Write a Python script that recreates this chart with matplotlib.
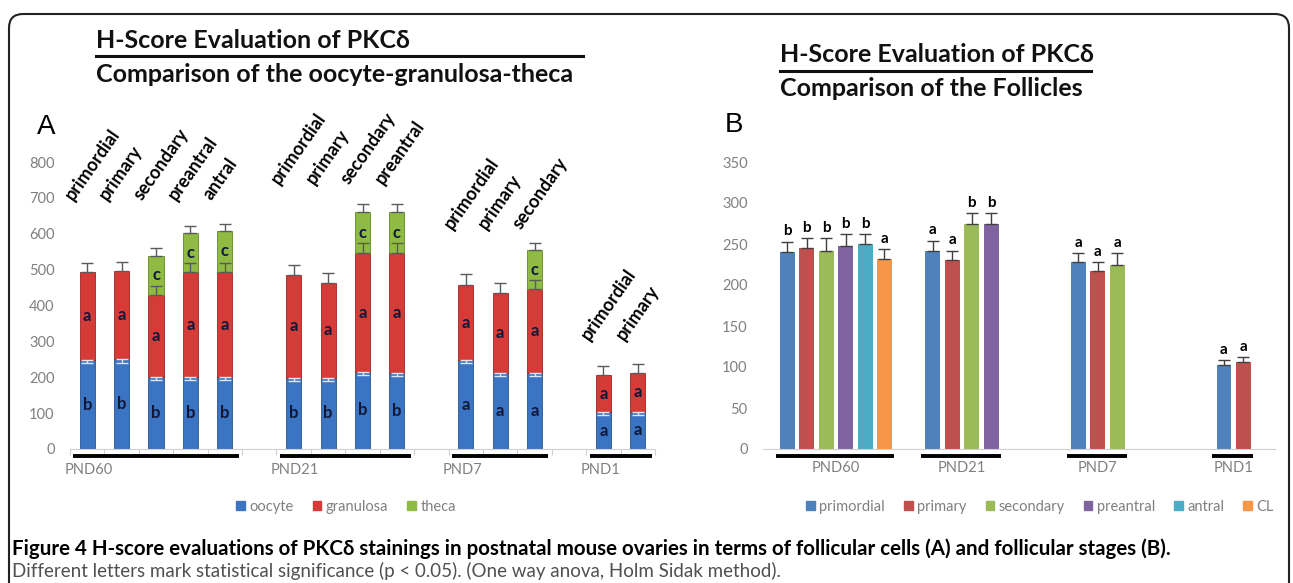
import numpy as np
import matplotlib
matplotlib.use('Agg')
import matplotlib.pyplot as plt
from matplotlib.patches import FancyBboxPatch, Patch

# ---- data ----
groups = ['PND60', 'PND21', 'PND7', 'PND1']
stages_a = [['primordial', 'primary', 'secondary', 'preantral', 'antral'],
            ['primordial', 'primary', 'secondary', 'preantral'],
            ['primordial', 'primary', 'secondary'],
            ['primordial', 'primary']]
oocyte = [248, 250, 200, 200, 200, 199, 199, 215, 213, 248, 213, 213, 103, 104]
granulosa = [244, 246, 230, 294, 294, 286, 264, 330, 332, 209, 222, 232, 102, 108]
theca = [None, None, 108, 107, 114, None, None, 116, 116, None, None, 109, None, None]
oocyte_err = [9] * 14
granulosa_err = [26, 24, 24, 24, 24, 27, 28, 30, 30, 30, 28, 25, 27, 26]
theca_err = [None, None, 21, 20, 20, None, None, 23, 23, None, None, 21, None, None]
oocyte_sig = ['b'] * 9 + ['a'] * 5
granulosa_sig = ['a'] * 14
theca_sig = 'c'

stages_b = ['primordial', 'primary', 'secondary', 'preantral', 'antral', 'CL']
b_vals = [[240, 245, 242, 248, 250, 232], [242, 230, 274, 274], [228, 217, 224], [102, 106]]
b_err = [[13, 12, 15, 14, 12, 12], [12, 12, 14, 14], [11, 11, 15], [6, 6]]
b_sig = [['b', 'b', 'b', 'b', 'b', 'a'], ['a', 'a', 'b', 'b'], ['a', 'a', 'a'], ['a', 'a']]

cells = ['oocyte', 'granulosa', 'theca']
cell_colors = ['#3a74c2', '#d63c37', '#8fbb45']
b_colors = ['#4f81bd', '#c0504d', '#9bbb59', '#8064a2', '#4bacc6', '#f79646']

W, H = 1293, 583
FONT = ['Lato', 'Open Sans', 'DejaVu Sans']
plt.rcParams['font.family'] = FONT
GRAY = '#808080'

fig = plt.figure(figsize=(W / 100, H / 100), dpi=100)

# background axes in pixel coordinates for frame and titles
bg = fig.add_axes([0, 0, 1, 1], zorder=-1)
bg.set_xlim(0, W)
bg.set_ylim(H, 0)
bg.axis('off')
bg.add_patch(FancyBboxPatch((9, 14), 1280, 620, boxstyle='round,pad=0,rounding_size=14',
                            fc='none', ec='#222222', lw=1.5))

def title(x, y1, y2, x2, l1, l2):
    bg.text(x, y1, l1, fontsize=18, fontweight='bold', va='center', ha='left', color='#111111')
    bg.plot([x, x2], [y1 + 16, y1 + 16], color='#111111', lw=2.2)
    bg.text(x, y2, l2, fontsize=18, fontweight='bold', va='center', ha='left', color='#111111')

title(96, 40, 74, 583, 'H-Score Evaluation of PKCδ', 'Comparison of the oocyte-granulosa-theca')
title(780, 55, 89, 1091, 'H-Score Evaluation of PKCδ', 'Comparison of the Follicles')
bg.text(37, 127, 'A', fontsize=20, family='Liberation Sans', va='center', ha='left')
bg.text(725, 125, 'B', fontsize=20, family='Liberation Sans', va='center', ha='left')

bg.text(12, 549, 'Figure 4 H-score evaluations of PKCδ stainings in postnatal mouse ovaries in terms of '
        'follicular cells (A) and follicular stages (B).', fontsize=14.8, fontweight='bold',
        va='center', ha='left')
bg.text(12, 571, 'Different letters mark statistical significance (p < 0.05). (One way anova, Holm Sidak method).',
        fontsize=13.5, color='#505050', va='center', ha='left')

# ---- panel A ----
axA = fig.add_axes([70 / W, (H - 449) / H, 585 / W, 287 / H])
axA.patch.set_alpha(0)
starts_a = np.cumsum([0] + [len(s) + 1 for s in stages_a[:-1]])
xa = np.concatenate([st + np.arange(len(s)) for st, s in zip(starts_a, stages_a)])
oo = np.array(oocyte, float)
gr = np.array(granulosa, float)
bw = 0.44
axA.bar(xa, oo, bw, color=cell_colors[0], edgecolor='#27558f', lw=0.6, zorder=2)
axA.bar(xa, gr, bw, bottom=oo, color=cell_colors[1], edgecolor='#9c2623', lw=0.6, zorder=2)
th_idx = [i for i, t in enumerate(theca) if t is not None]
th = np.array([theca[i] for i in th_idx], float)
axA.bar(xa[th_idx], th, bw, bottom=(oo + gr)[th_idx], color=cell_colors[2],
        edgecolor='#5f8a24', lw=0.6, zorder=2)

axA.errorbar(xa, oo, yerr=[oocyte_err, np.zeros(14)], fmt='none', ecolor='#dfe6f2',
             capsize=4, elinewidth=1, zorder=3)
axA.errorbar(xa, oo + gr, yerr=[np.zeros(14), granulosa_err], fmt='none', ecolor='#5a5a5a',
             capsize=4, elinewidth=1, zorder=3)
axA.errorbar(xa[th_idx], (oo + gr)[th_idx] + th, yerr=[np.zeros(len(th_idx)), [theca_err[i] for i in th_idx]],
             fmt='none', ecolor='#5a5a5a', capsize=4, elinewidth=1, zorder=3)

for i, x in enumerate(xa):
    axA.text(x, oo[i] / 2, oocyte_sig[i], ha='center', va='center', fontsize=12,
             fontweight='bold', color='#10183a', zorder=4)
    axA.text(x, oo[i] + gr[i] / 2, granulosa_sig[i], ha='center', va='center', fontsize=12,
             fontweight='bold', color='#10183a', zorder=4)
for j, i in enumerate(th_idx):
    axA.text(xa[i], oo[i] + gr[i] + th[j] / 2, theca_sig, ha='center', va='center', fontsize=12,
             fontweight='bold', color='#10183a', zorder=4)

label_base = [690, 735, 610, 300]
for g, (st, names) in enumerate(zip(starts_a, stages_a)):
    for k, name in enumerate(names):
        axA.text(st + k - 0.4, label_base[g], name, rotation=55, rotation_mode='anchor',
                 ha='left', va='baseline', fontsize=13, fontweight='bold', clip_on=False)
    axA.plot([st - 0.4, st + len(names) - 1 + 0.4], [-19.5, -19.5], color='black', lw=2.8,
             clip_on=False, solid_capstyle='butt')
    axA.text(st - 0.67, -58, groups[g], ha='left', va='center', fontsize=10.5, color=GRAY)

axA.set_xlim(-0.5, 16.5)
axA.set_ylim(0, 800)
axA.set_yticks(range(0, 801, 100))
axA.set_xticks(np.arange(-0.5, 17, 1))
axA.set_xticklabels([])
axA.tick_params(axis='x', length=4, color='#d0d0d0', direction='out')
axA.tick_params(axis='y', length=0, pad=11, labelsize=10.5, labelcolor=GRAY)
for s in ['top', 'right', 'left']:
    axA.spines[s].set_visible(False)
axA.spines['bottom'].set_color('#d0d0d0')

fig.legend([Patch(color=c) for c in cell_colors], cells, loc='center',
           bbox_to_anchor=(346 / W, 1 - 507 / H), ncol=3, frameon=False, fontsize=10.5,
           handlelength=0.6, handleheight=0.6, handletextpad=0.3, columnspacing=1.3,
           labelcolor=GRAY)

# ---- panel B ----
axB = fig.add_axes([763 / W, (H - 449) / H, 512 / W, 287 / H])
axB.patch.set_alpha(0)
gap_b = 7.5
for g, vals in enumerate(b_vals):
    xs = g * gap_b + np.arange(len(vals))
    axB.bar(xs, vals, 0.77, color=b_colors[:len(vals)], zorder=2)
    axB.errorbar(xs, vals, yerr=[np.zeros(len(vals)), b_err[g]], fmt='none', ecolor='#404040',
                 capsize=4, elinewidth=1, zorder=3)
    for x, v, e, s in zip(xs, vals, b_err[g], b_sig[g]):
        axB.text(x, v + e + 4, s, ha='center', va='bottom', fontsize=11, fontweight='bold')
    axB.plot([xs[0] - 0.6, xs[-1] + 0.5], [-8.5, -8.5], color='black', lw=2.8,
             clip_on=False, solid_capstyle='butt')
    axB.text(xs.mean(), -23, groups[g], ha='center', va='center', fontsize=10.5, color=GRAY)

axB.set_xlim(-1.26, 25.13)
axB.set_ylim(0, 350)
axB.set_yticks(range(0, 351, 50))
axB.set_xticks([])
axB.tick_params(axis='y', length=0, pad=11, labelsize=10.5, labelcolor=GRAY)
for s in ['top', 'right', 'left']:
    axB.spines[s].set_visible(False)
axB.spines['bottom'].set_color('#d0d0d0')

fig.legend([Patch(color=c) for c in b_colors], stages_b, loc='center',
           bbox_to_anchor=(1040 / W, 1 - 507 / H), ncol=6, frameon=False, fontsize=10.5,
           handlelength=0.6, handleheight=0.6, handletextpad=0.3, columnspacing=1.3,
           labelcolor=GRAY)

fig.savefig('out.png', dpi=100)
